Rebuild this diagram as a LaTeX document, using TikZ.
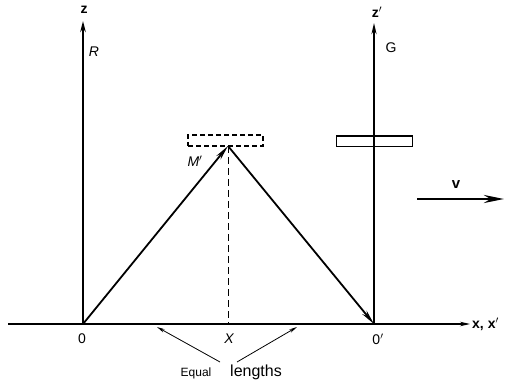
\documentclass[tikz,border=0pt]{standalone}
\usepackage{fontspec}
\setmainfont{Liberation Sans}
\usetikzlibrary{arrows.meta}
\begin{document}
\begin{tikzpicture}[x=1pt,y=-1pt,
  lbl/.style={inner sep=0pt,font=\fontsize{14}{16}\selectfont},
  axis/.style={line width=1.2pt,-{Stealth[length=10pt,width=4.5pt]}},
  ray/.style={line width=1.8pt,-{Stealth[length=15pt,width=5.5pt]}},
  thinarr/.style={line width=0.8pt,-{Stealth[length=8pt,width=3.5pt]}}]
\useasboundingbox (0,0) rectangle (505,387);
% key points
\coordinate (O) at (83,324);
\coordinate (Op) at (374,324);
\coordinate (Xp) at (228,324);
\coordinate (A) at (228,146);
\coordinate (ztop) at (83,21);
\coordinate (zptop) at (374,23);
\coordinate (xl) at (8,324);
\coordinate (xr) at (470,324);
\coordinate (vs) at (417,199);
\coordinate (ve) at (504,199);
\coordinate (e1s) at (220,362);
\coordinate (e1e) at (157,327);
\coordinate (e2s) at (237,362);
\coordinate (e2e) at (297,327);
% mirrors
\node[draw,line width=1.2pt,dash pattern=on 5pt off 3pt,minimum width=75pt,minimum height=11pt,inner sep=0pt] (mp) at (225.5,140.5) {};
\node[draw,line width=1.2pt,minimum width=76pt,minimum height=10.5pt,inner sep=0pt] (m) at (374.5,141.2) {};
% axes
\draw[axis] (xl) -- (xr);
\draw[line width=2.8pt,-{Stealth[length=11pt,width=5.5pt]}] (O) -- (ztop);
\draw[line width=1.8pt,-{Stealth[length=11pt,width=5pt]}] (Op) -- (zptop);
% dashed vertical
\draw[line width=1pt,dash pattern=on 7pt off 4pt] (A) -- (Xp);
% light rays
\draw[ray] (O) -- (A);
\draw[ray] (A) -- (Op);
% velocity
\draw[line width=2.8pt,-{Stealth[length=20pt,width=8pt]}] (vs) -- (ve);
% equal lengths arrows
\draw[thinarr] (e1s) -- (e1e);
\draw[thinarr] (e2s) -- (e2e);
% labels
\node[lbl,font=\fontsize{14}{16}\selectfont\bfseries] (zl) at (84,10) {z};
\node[lbl,font=\fontsize{14}{16}\selectfont\itshape] (Rl) at (94,52) {R};
\node[lbl,font=\fontsize{14}{16}\selectfont\bfseries] (zpl) at (377,12) {z$'$};
\node[lbl] (Gl) at (391,48) {G};
\node[lbl,font=\fontsize{14}{16}\selectfont\itshape] (Ml) at (195,161) {M$'$};
\node[lbl,font=\fontsize{15}{17}\selectfont\bfseries] (vl) at (456,185) {v};
\node[lbl] (Ol) at (82,339) {0};
\node[lbl,font=\fontsize{14}{16}\selectfont\itshape] (Xl) at (229,339) {X};
\node[lbl] (Opl) at (378,339) {0$'$};
\node[lbl,anchor=west,font=\fontsize{14}{16}\selectfont\bfseries] (xxl) at (472,324) {x, x$'$};
\node[lbl,font=\fontsize{12}{14}\selectfont] (eq) at (196,373) {Equal};
\node[lbl,font=\fontsize{16}{18}\selectfont] (len) at (256,372) {lengths};
\end{tikzpicture}
\end{document}
